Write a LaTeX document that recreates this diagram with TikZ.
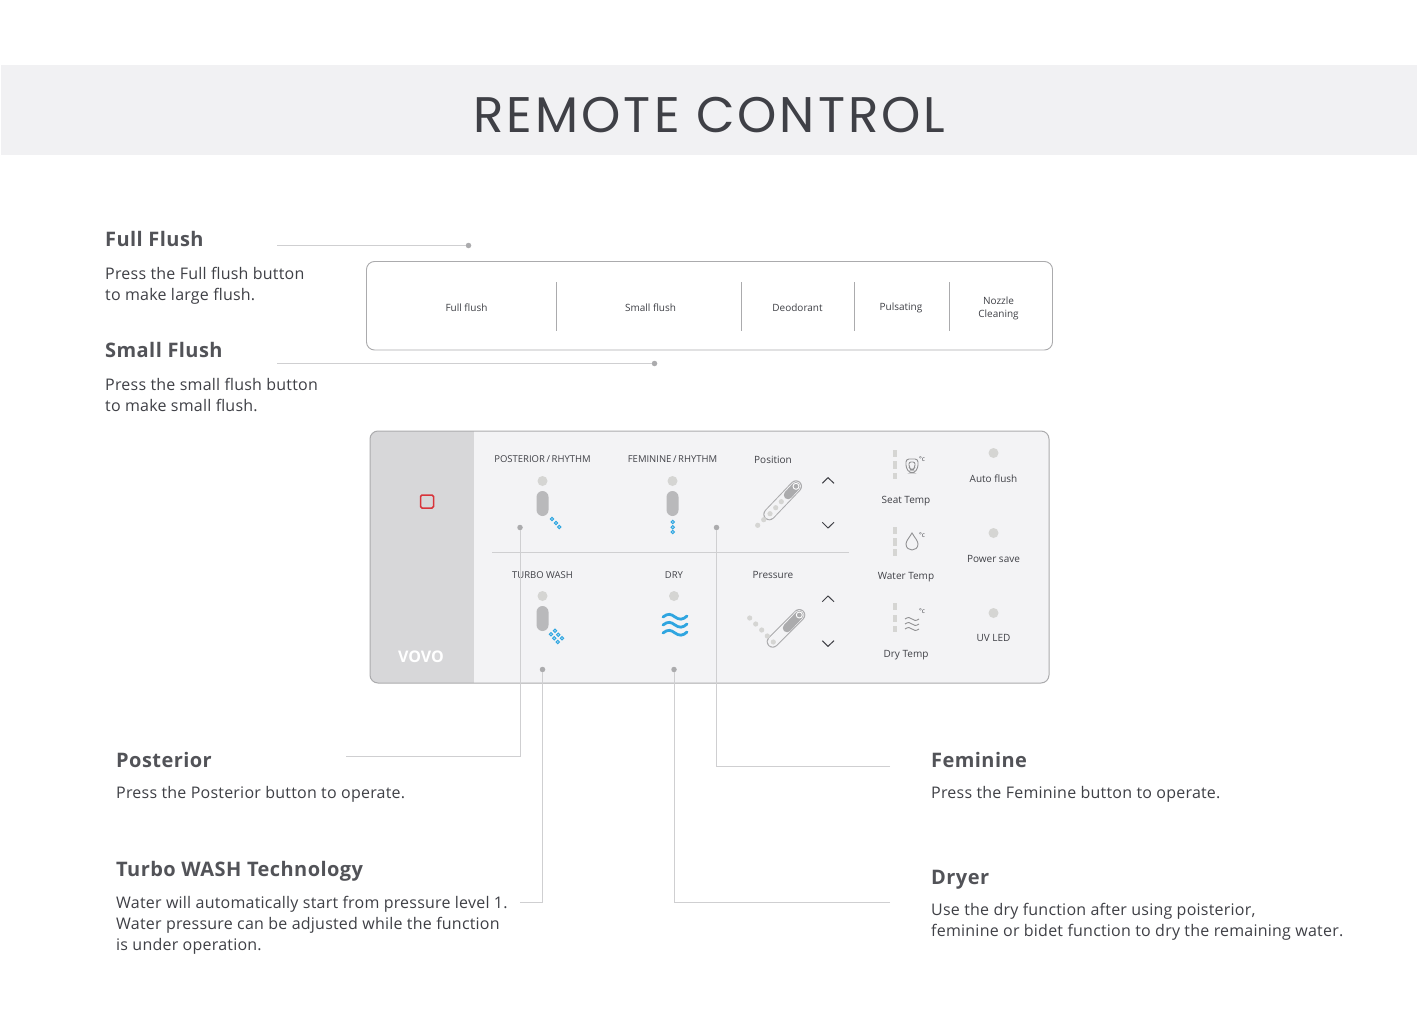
\documentclass[tikz,border=0pt]{standalone}
\usepackage{fontspec}
\setmainfont{Open Sans}
\setsansfont{Open Sans}
\newfontfamily\titlefont[LetterSpace=6]{Poppins}
\newfontfamily\headfont[LetterSpace=2.2]{Open Sans}
\newfontfamily\bodyfont[LetterSpace=1.4]{Open Sans}
\newfontfamily\keyfont{Open Sans}
\usetikzlibrary{arrows.meta,calc,positioning,fit,shapes.geometric,shapes.misc}
\definecolor{VovoInk}{HTML}{3F4046}
\definecolor{VovoBand}{HTML}{F1F1F3}
\definecolor{VovoPanel}{HTML}{F3F3F5}
\definecolor{VovoSide}{HTML}{D7D7D9}
\definecolor{VovoEdge}{HTML}{ABABAD}
\definecolor{VovoLine}{HTML}{CFCFD1}
\definecolor{VovoLed}{HTML}{D5D5D3}
\definecolor{VovoPill}{HTML}{B9B9BB}
\definecolor{VovoBlue}{HTML}{2FA5E0}
\definecolor{VovoRed}{HTML}{D8333A}

\begin{document}
\begin{tikzpicture}[
    x=1pt,y=-1pt,
    head/.style={anchor=base west,inner sep=0pt,text=VovoInk!90,font=\fontsize{20}{24}\headfont\bfseries\selectfont},
    desc/.style={anchor=west,inner sep=0pt,align=left,text=VovoInk,font=\fontsize{16}{21}\bodyfont\selectfont},
    key/.style={inner sep=0pt,align=center,text=VovoInk,font=\fontsize{10}{13}\keyfont\selectfont},
    capskey/.style={key,font=\fontsize{9.5}{13}\keyfont\selectfont},
    pin/.style={circle,fill=VovoEdge,draw=none,minimum size=5.5pt,inner sep=0pt},
    lead/.style={draw=VovoLine,line width=0.9pt},
    led/.style={circle,fill=VovoLed,draw=none,minimum size=10pt,inner sep=0pt},
    pill/.style={rounded rectangle,rotate=90,fill=VovoPill,draw=none,minimum width=25pt,minimum height=12pt,inner sep=0pt},
    jet/.style={circle,fill=VovoBlue!45,draw=VovoBlue,line width=0.9pt,minimum size=3.5pt,inner sep=0pt},
    chev/.style={draw=VovoInk,line width=1pt},
    bar/.style={draw=VovoLed,line width=4pt},
    trace/.style={draw=VovoEdge!85!black,line width=0.9pt},
    deg/.style={inner sep=0pt,text=VovoInk,font=\fontsize{6.5}{7}\keyfont\selectfont}
  ]
    \useasboundingbox (0,0) rectangle (1417,1025);
    \fill[white] (0,0) rectangle (1417,1025);

    % title band
    \fill[VovoBand] (1,65) rectangle (1417,155);
    \node[inner sep=0pt,text=VovoInk,font=\fontsize{50}{54}\titlefont\selectfont] (title) at (709.5,115) {REMOTE CONTROL};

    % flush bar
    \draw[VovoEdge,line width=0.9pt,rounded corners=8pt] (366.5,261.5) rectangle (1052.5,350);
    \node[key] (fullkey) at (466.5,307.5) {Full flush};
    \node[key] (smallkey) at (650.5,307.5) {Small flush};
    \node[key] (deokey) at (797.5,307.5) {Deodorant};
    \node[key] (pulsekey) at (901,307.5) {Pulsating};
    \node[key] (nozzlekey) at (998.5,308) {Nozzle\\Cleaning};
    \foreach \x in {556.5,741,854,949.5}
      \draw[VovoEdge,line width=0.8pt] (\x,282) -- (\x,331);

    % remote panel
    \fill[VovoPanel,rounded corners=8pt] (370,431) rectangle (1049,683);
    \begin{scope}
      \clip[rounded corners=8pt] (370,431) rectangle (1049,683);
      \fill[VovoSide] (370,431) rectangle (474,683);
    \end{scope}
    \draw[VovoEdge,line width=1pt,rounded corners=8pt] (370,431) rectangle (1049,683);
    \draw[VovoRed,line width=1.5pt,rounded corners=1.5pt] (420.5,495) rectangle (433.5,508);
    \node[inner sep=0pt,text=white,font=\fontsize{16}{20}\keyfont\bfseries\selectfont] (vovo) at (421,656.5) {VOVO};
    \draw[VovoLine,line width=0.9pt] (492,552) -- (849,552);

    \node[capskey] (postkey) at (542.5,459.5) {POSTERIOR\,/\,RHYTHM};
    \node[capskey] (femkey) at (672.5,459.5) {FEMININE\,/\,RHYTHM};
    \node[key] (poskey) at (773,459.5) {Position};
    \node[capskey] (turbokey) at (542.5,575) {TURBO WASH};
    \node[capskey] (drykey) at (674,575) {DRY};
    \node[key] (preskey) at (773,575) {Pressure};

    \node[led] (postled) at (542.5,481) {};
    \node[led] (femled) at (672.5,481) {};
    \node[led] (turboled) at (542.5,596) {};
    \node[led] (dryled) at (674,596) {};
    \node[pill] (postpill) at (542.5,503.5) {};
    \node[pill] (fempill) at (672.5,503.5) {};
    \node[pill] (turbopill) at (542.5,618.5) {};

    \foreach \x/\y in {552/519,556/523,559.3/527,672.7/522,672.7/527.3,672.7/532,
        555/630.7,551/634.3,558.3/634.7,554.3/638.3,562/638.3,557.7/642}
      \node[jet] at (\x,\y) {};
    \foreach \y in {617,625,633}
      \draw[VovoBlue,line width=2.8pt,line cap=round] (663,\y) .. controls (668,\y-4) and (671,\y-3) .. (675,\y) .. controls (679,\y+3) and (683,\y+3) .. (687,\y-1);

    % position and pressure sliders
    \draw[VovoEdge,line width=12pt,line cap=round] (769.3,514.3) -- (796,486.3);
    \draw[VovoPanel,line width=10pt,line cap=round] (769.3,514.3) -- (796,486.3);
    \foreach \x/\y in {757.7/525.3,763.7/519.7,770/513.7,775.7/507.7,781.3/501.7}
      \fill[VovoLed] (\x,\y) circle (2.6);
    \draw[VovoEdge,line width=8.5pt,line cap=round] (788,495) -- (796,486.3);
    \draw[white,line width=0.9pt] (796,486.3) circle (3);

    \draw[VovoEdge,line width=12pt,line cap=round] (772.7,641.7) -- (799.3,615);
    \draw[VovoPanel,line width=10pt,line cap=round] (772.7,641.7) -- (799.3,615);
    \foreach \x/\y in {749.7/618,755.7/624,761.7/630,767.3/636,773.3/642}
      \fill[VovoLed] (\x,\y) circle (2.6);
    \draw[VovoEdge,line width=8.5pt,line cap=round] (787,628) -- (799.3,615);
    \draw[white,line width=0.9pt] (799.3,615) circle (3);

    \draw[chev] (822.3,483.3) -- (828,477.7) -- (834,483.3);
    \draw[chev] (822.3,522.3) -- (828,528) -- (834,522.3);
    \draw[chev] (822.3,601.7) -- (828,596) -- (834,601.7);
    \draw[chev] (822.3,640.7) -- (828,646.3) -- (834,640.7);

    % temperature column
    \foreach \y/\z in {450/457,461/469,473/479,527/534,538/546,549/556,603/610,615/622,626/632}
      \draw[bar] (895,\y) -- (895,\z);
    \draw[trace,rounded corners=3pt] (906,459) -- (918,459) -- (918,468) -- (914,473) -- (910,473) -- (906,468) -- cycle;
    \draw[trace,rounded corners=2pt] (909,462) -- (915,462) -- (915,467) -- (913,470) -- (911,470) -- (909,467) -- cycle;
    \draw[trace] (912,533) .. controls (909,538) and (906,541) .. (906,544) .. controls (906,552) and (918,552) .. (918,544) .. controls (918,541) and (915,538) .. (912,533) -- cycle;
    \foreach \y in {619,624,629}
      \draw[trace] (905,\y) .. controls (908,\y-2) and (910,\y-2) .. (912,\y) .. controls (914,\y+2) and (916,\y+2) .. (919,\y);
    \node[deg] (seatdeg) at (922,459) {°c};
    \node[deg] (waterdeg) at (922,535) {°c};
    \node[deg] (drydeg) at (922,611) {°c};

    \node[key] (seatkey) at (906,501) {Seat Temp};
    \node[key] (waterkey) at (906,577) {Water Temp};
    \node[key] (dtempkey) at (906,655.5) {Dry Temp};

    \node[led] (autoled) at (993.5,453) {};
    \node[led] (saveled) at (993.5,533) {};
    \node[led] (uvled) at (993.5,613) {};
    \node[key] (autokey) at (993.5,478.5) {Auto flush};
    \node[key] (savekey) at (993.5,558.5) {Power save};
    \node[key] (uvkey) at (993.5,637.5) {UV LED};

    % callouts
    \node[head] (fullhead) at (105,246) {Full Flush};
    \node[desc] (fulldesc) at (105,285.5) {Press the Full flush button\\to make large flush.};
    \node[head] (smallhead) at (105,357) {Small Flush};
    \node[desc] (smalldesc) at (105,394.5) {Press the small flush button\\to make small flush.};
    \node[head] (posthead) at (116,767) {Posterior};
    \node[desc] (postdesc) at (116,794.5) {Press the Posterior button to operate.};
    \node[head] (turbohead) at (116,876) {Turbo WASH Technology};
    \node[desc] (turbodesc) at (116,925) {Water will automatically start from pressure level 1.\\Water pressure can be adjusted while the function\\is under operation.};
    \node[head] (femhead) at (931,767) {Feminine};
    \node[desc] (femdesc) at (931,794.5) {Press the Feminine button to operate.};
    \node[head] (dryhead) at (931,884) {Dryer};
    \node[desc] (drydesc) at (931,922) {Use the dry function after using poisterior,\\feminine or bidet function to dry the remaining water.};

    % leaders
    \node[pin] (fullpin) at (468.5,245.5) {};
    \node[pin] (smallpin) at (654.5,363.5) {};
    \node[pin] (postpin) at (520,527.5) {};
    \node[pin] (fempin) at (716.5,527.5) {};
    \node[pin] (turbopin) at (542.5,669.5) {};
    \node[pin] (drypin) at (674,669.5) {};
    \coordinate (fullend) at (277,245.5);
    \coordinate (smallend) at (277,363.5);
    \coordinate (postend) at (346,756.5);
    \coordinate (turboend) at (520,902.5);
    \coordinate (femend) at (890,766.5);
    \coordinate (dryend) at (890,902.5);

    \draw[lead] (fullend) -- (fullpin);
    \draw[lead] (smallend) -- (smallpin);
    \draw[lead] (postend) -| (postpin);
    \draw[lead] (turboend) -| (turbopin);
    \draw[lead] (femend) -| (fempin);
    \draw[lead] (dryend) -| (drypin);
  \end{tikzpicture}
\end{document}
